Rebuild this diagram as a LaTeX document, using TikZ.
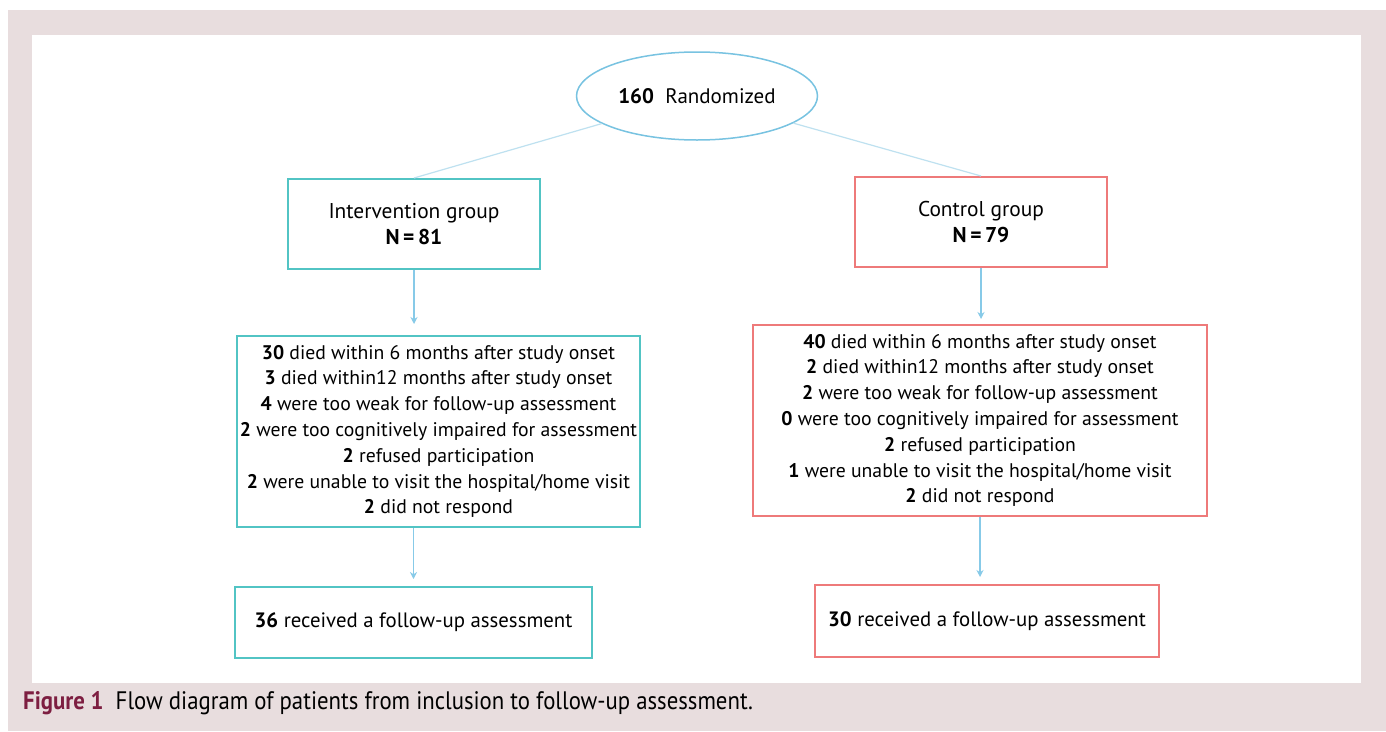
\documentclass[tikz,border=0pt]{standalone}
\usepackage{fontspec}
\setmainfont{PT Sans}
\newfontfamily\capfont[FakeStretch=0.9]{PT Sans}
\usetikzlibrary{shapes.geometric,arrows.meta}

\definecolor{framepink}{RGB}{232,221,222}
\definecolor{tealedge}{RGB}{82,196,196}
\definecolor{rededge}{RGB}{238,122,122}
\definecolor{linkblue}{RGB}{135,202,232}
\definecolor{paleblue}{RGB}{190,225,240}
\definecolor{ovalblue}{RGB}{120,195,225}
\definecolor{capred}{RGB}{125,30,65}

\begin{document}
\begin{tikzpicture}[x=1pt,y=-1pt,
  box/.style={draw,rectangle,align=center,inner sep=0pt,line width=2pt},
  ibox/.style={box,draw=tealedge},
  cbox/.style={box,draw=rededge},
  head/.style={font=\fontsize{21.4}{26}\selectfont},
  body/.style={font=\fontsize{19.7}{25.8}\selectfont},
  tail/.style={font=\fontsize{20.8}{26}\selectfont},
  flow/.style={->,>={Stealth[length=7pt,width=7pt]},draw=linkblue,line width=1.2pt}]
\useasboundingbox (0,0) rectangle (1386,731);
% frame and panel
\fill[framepink] (8,10) rectangle (1386,731);
\fill[white] (32,35) rectangle (1361,683);

\node[ellipse,draw=ovalblue,line width=1.5pt,minimum width=241,minimum height=88,inner sep=0pt,
  font=\fontsize{21}{26}\selectfont] (rand) at (697,96) {\textbf{160}\ \ Randomized};

\node[ibox,head,minimum width=252,minimum height=90] (intv) at (414,224)
  {Intervention group\\\textbf{N\,=\,81}};
\node[cbox,head,minimum width=252,minimum height=90] (ctrl) at (981,222)
  {Control group\\\textbf{N\,=\,79}};

\node[ibox,body,minimum width=403,minimum height=191] (intvx) at (438.5,431.5)
  {\textbf{30} died within 6 months after study onset\\
   \textbf{3} died within12 months after study onset\\
   \textbf{4} were too weak for follow-up assessment\\
   \textbf{2} were too cognitively impaired for assessment\\
   \textbf{2} refused participation\\
   \textbf{2} were unable to visit the hospital/home visit\\
   \textbf{2} did not respond};
\node[cbox,body,minimum width=454,minimum height=191] (ctrlx) at (980,420.5)
  {\textbf{40} died within 6 months after study onset\\
   \textbf{2} died within12 months after study onset\\
   \textbf{2} were too weak for follow-up assessment\\
   \textbf{0} were too cognitively impaired for assessment\\
   \textbf{2} refused participation\\
   \textbf{1} were unable to visit the hospital/home visit\\
   \textbf{2} did not respond};

\node[ibox,tail,minimum width=357,minimum height=71] (intvf) at (413.5,622.5)
  {\textbf{36} received a follow-up assessment};
\node[cbox,tail,minimum width=344,minimum height=72] (ctrlf) at (987,621)
  {\textbf{30} received a follow-up assessment};

\draw[paleblue,line width=1.2pt] (rand) -- (intv.north);
\draw[paleblue,line width=1.2pt] (rand) -- (ctrl.north);

\draw[flow,shorten >=11pt] (intv.south) -- (intv.south |- intvx.north);
\draw[flow,shorten >=5pt] (ctrl.south) -- (ctrl.south |- ctrlx.north);
\draw[flow,shorten >=7pt] (intvf.north |- intvx.south) -- (intvf.north);
\draw[flow,shorten >=7pt] (ctrlx.south) -- (ctrlx.south |- ctrlf.north);

\node[anchor=base west,inner sep=0pt,font=\capfont\fontsize{25.3}{28}\selectfont] (cap) at (23,709)
  {\textcolor{capred}{\bfseries Figure 1}\ \ Flow diagram of patients from inclusion to follow-up assessment.};
\end{tikzpicture}
\end{document}
